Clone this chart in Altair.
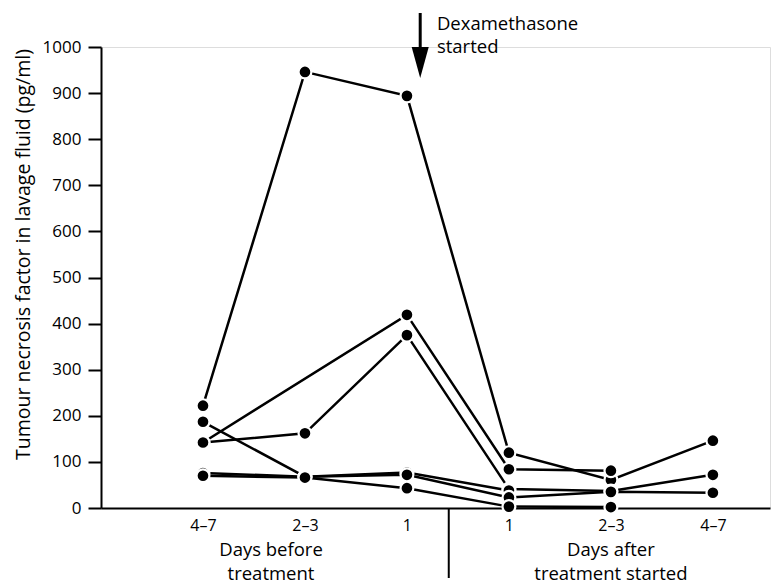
import altair as alt
import pandas as pd

# Time-point categories (x axis)
categories = ["4–7", "2–3", "1", "1", "2–3", "4–7"]

# TNF (pg/ml) per patient at each time point (None = not measured)
patient_a = [222, 946, 894, 120, 61, 146]
patient_b = [142, None, 419, 84, 81, None]
patient_c = [142, 162, 375, 41, 37, 72]
patient_d = [187, 68, 77, 38, None, None]
patient_e = [76, 68, 72, 23, 35, 33]
patient_f = [70, 66, 43, 3, 2, None]

patients = {"A": patient_a, "B": patient_b, "C": patient_c,
            "D": patient_d, "E": patient_e, "F": patient_f}

y_ticks = list(range(0, 1001, 100))

rows = []
for pid, vals in patients.items():
    for i, v in enumerate(vals):
        if v is not None:
            rows.append({"patient": pid, "idx": i, "tnf": v})
df = pd.DataFrame(rows)

FONT = "Open Sans"
label_js = "[" + ",".join("'" + c + "'" for c in categories) + "][datum.value]"

xscale = alt.Scale(domain=[-1.0, 5.56], nice=False, zero=False)
yscale = alt.Scale(domain=[0, 1000], nice=False)

x_enc = alt.X("idx:Q", scale=xscale,
              axis=alt.Axis(values=list(range(len(categories))), labelExpr=label_js,
                            ticks=False, grid=False, title=None,
                            labelFont=FONT, labelFontSize=16, labelColor="black",
                            labelPadding=9, domainColor="black", domainWidth=2))
y_enc = alt.Y("tnf:Q", scale=yscale,
              axis=alt.Axis(values=y_ticks, grid=False, format="d",
                            title="Tumour necrosis factor in lavage fluid (pg/ml)",
                            titleFont=FONT, titleFontSize=19.5, titleFontWeight="normal",
                            titleColor="black", titleAngle=-90,
                            titleX=-78, titleY=207, titleAlign="center",
                            titleBaseline="middle",
                            labelFont=FONT, labelFontSize=17, labelColor="black",
                            labelPadding=7, tickSize=13, tickWidth=2,
                            tickColor="black", domainColor="black", domainWidth=2))

lines = alt.Chart(df).mark_line(color="black", strokeWidth=2.5).encode(
    x=x_enc, y=y_enc, detail="patient:N", order="idx:Q")

points = alt.Chart(df).mark_point(filled=True, shape="circle", size=165,
                                   fill="black", stroke="white", strokeWidth=2.2,
                                   opacity=1).encode(x=x_enc, y=y_enc)

# Treatment divider below the axis
divider = alt.Chart().mark_rule(color="black", strokeWidth=2).encode(
    x=alt.datum(2.41, scale=xscale), y=alt.value(461), y2=alt.value(531))

# Dexamethasone arrow
shaft = alt.Chart().mark_rule(color="black", strokeWidth=3).encode(
    x=alt.datum(2.13, scale=xscale), y=alt.value(-34), y2=alt.value(6))
head = alt.Chart().mark_point(shape="M -0.55 -1 L 0.55 -1 L 0 1 Z", size=961,
                              filled=True, color="black", opacity=1).encode(
    x=alt.datum(2.13, scale=xscale), y=alt.value(15.5))
dexa = alt.Chart().mark_text(text=["Dexamethasone", "started"], align="left",
                             baseline="alphabetic", font=FONT, fontSize=18.5,
                             lineHeight=23, color="black").encode(
    x=alt.datum(2.294, scale=xscale), y=alt.value(-17))


def group_title(line1, line2, xpos):
    t1 = alt.Chart().mark_text(text=line1, align="center", baseline="alphabetic",
                               font=FONT, fontSize=18.5, color="black").encode(
        x=alt.datum(xpos, scale=xscale), y=alt.value(509))
    t2 = alt.Chart().mark_text(text=line2, align="center", baseline="alphabetic",
                               font=FONT, fontSize=18.5, color="black").encode(
        x=alt.datum(xpos, scale=xscale), y=alt.value(533))
    return [t1, t2]


titles = group_title("Days before", "treatment", 0.667) + \
    group_title("Days after", "treatment started", 4.0)

chart = alt.layer(lines, points, divider, shaft, head, dexa, *titles).properties(
    width=669, height=461,
    autosize=alt.AutoSizeParams(type="none"),
    padding={"left": 93, "top": 39, "right": 2, "bottom": 80},
).configure_view(stroke=None).configure(background="white")

chart.save("out.html", embed_options={"renderer": "svg", "actions": False})
